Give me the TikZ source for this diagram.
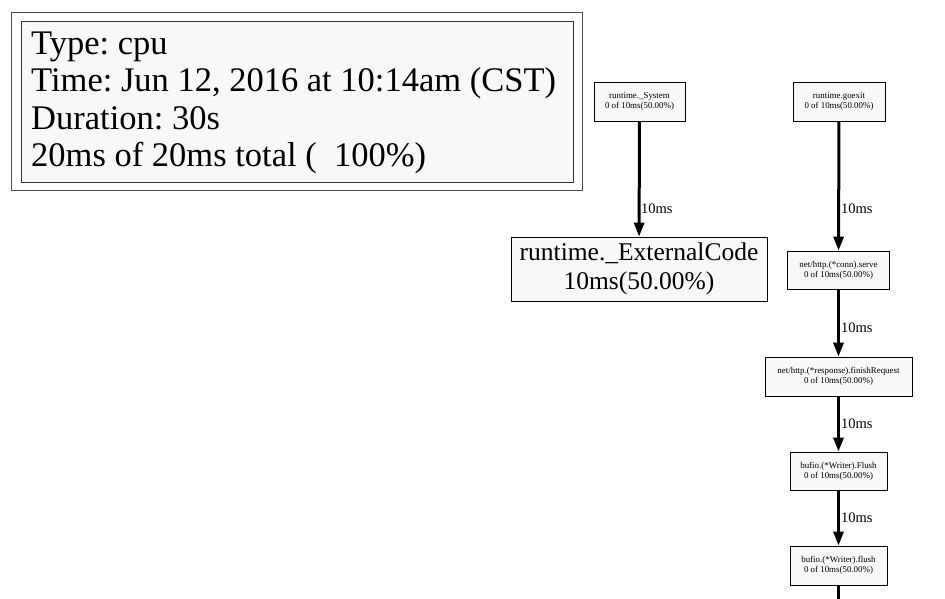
\documentclass[tikz,border=0pt]{standalone}
\usepackage{fontspec}
\setmainfont{Liberation Serif}
\usetikzlibrary{arrows.meta}
\definecolor{boxfill}{HTML}{F8F8F8}
\frenchspacing
\tikzset{
  fbox/.style={draw=black, line width=0.8pt, fill=boxfill, inner sep=0pt, align=center},
  smallbox/.style={fbox, font=\fontsize{8.9}{10}\selectfont},
  bigbox/.style={fbox, font=\fontsize{25.5}{29}\selectfont},
  edge/.style={line width=3pt, -{Triangle[length=14pt,width=10pt]}},
  lbl/.style={font=\fontsize{14.5}{16}\selectfont, anchor=west, inner sep=0pt},
}
\begin{document}
\begin{tikzpicture}[x=1pt,y=-1pt]
\useasboundingbox[fill=white] (0,0) rectangle (945,599);
% legend
\node[draw=black!70, line width=0.8pt, minimum width=571pt, minimum height=178pt, inner sep=0pt] (legendouter) at (296.5,101) {};
\node[fbox, draw=black!80, minimum width=552pt, minimum height=161pt] (legendinner) at (297,101.5) {};
\node[anchor=west, align=left, inner sep=0pt, font=\fontsize{34.5}{37.5}\selectfont] (legendtext) at (31,103) {Type: cpu\\Time: Jun 12, 2016 at 10:14am (CST)\\Duration: 30s\\20ms of 20ms total (\ \ 100\%)};
% nodes
\node[smallbox, minimum width=91pt, minimum height=39pt] (sys) at (639.5,101.5) {runtime.\_System\\0 of 10ms(50.00\%)};
\node[smallbox, minimum width=92pt, minimum height=39pt] (goexit) at (839,101.5) {runtime.goexit\\0 of 10ms(50.00\%)};
\node[bigbox, minimum width=256pt, minimum height=64pt] (ext) at (639,269) {runtime.\_ExternalCode\\10ms(50.00\%)};
\node[smallbox, minimum width=102pt, minimum height=38pt] (serve) at (838.5,270) {net/http.(*conn).serve\\0 of 10ms(50.00\%)};
\node[smallbox, minimum width=147pt, minimum height=39pt] (finish) at (838.5,376.5) {net/http.(*response).finishRequest\\0 of 10ms(50.00\%)};
\node[smallbox, minimum width=97pt, minimum height=38pt] (Flush) at (838.5,471) {bufio.(*Writer).Flush\\0 of 10ms(50.00\%)};
\node[smallbox, minimum width=97pt, minimum height=39pt] (flush) at (838.5,565.5) {bufio.(*Writer).flush\\0 of 10ms(50.00\%)};
\coordinate (down) at (838.5,600);
% edges
\draw[edge] (sys) -- (ext);
\draw[edge] (goexit) -- (serve);
\draw[edge] (serve) -- (finish);
\draw[edge] (finish) -- (Flush);
\draw[edge] (Flush) -- (flush);
\draw[line width=3pt] (flush) -- (down);
% labels
\node[lbl] (l1) at (641,209) {10ms};
\node[lbl] (l2) at (841,209) {10ms};
\node[lbl] (l3) at (841,328) {10ms};
\node[lbl] (l4) at (841,424) {10ms};
\node[lbl] (l5) at (841,518) {10ms};
\end{tikzpicture}
\end{document}
